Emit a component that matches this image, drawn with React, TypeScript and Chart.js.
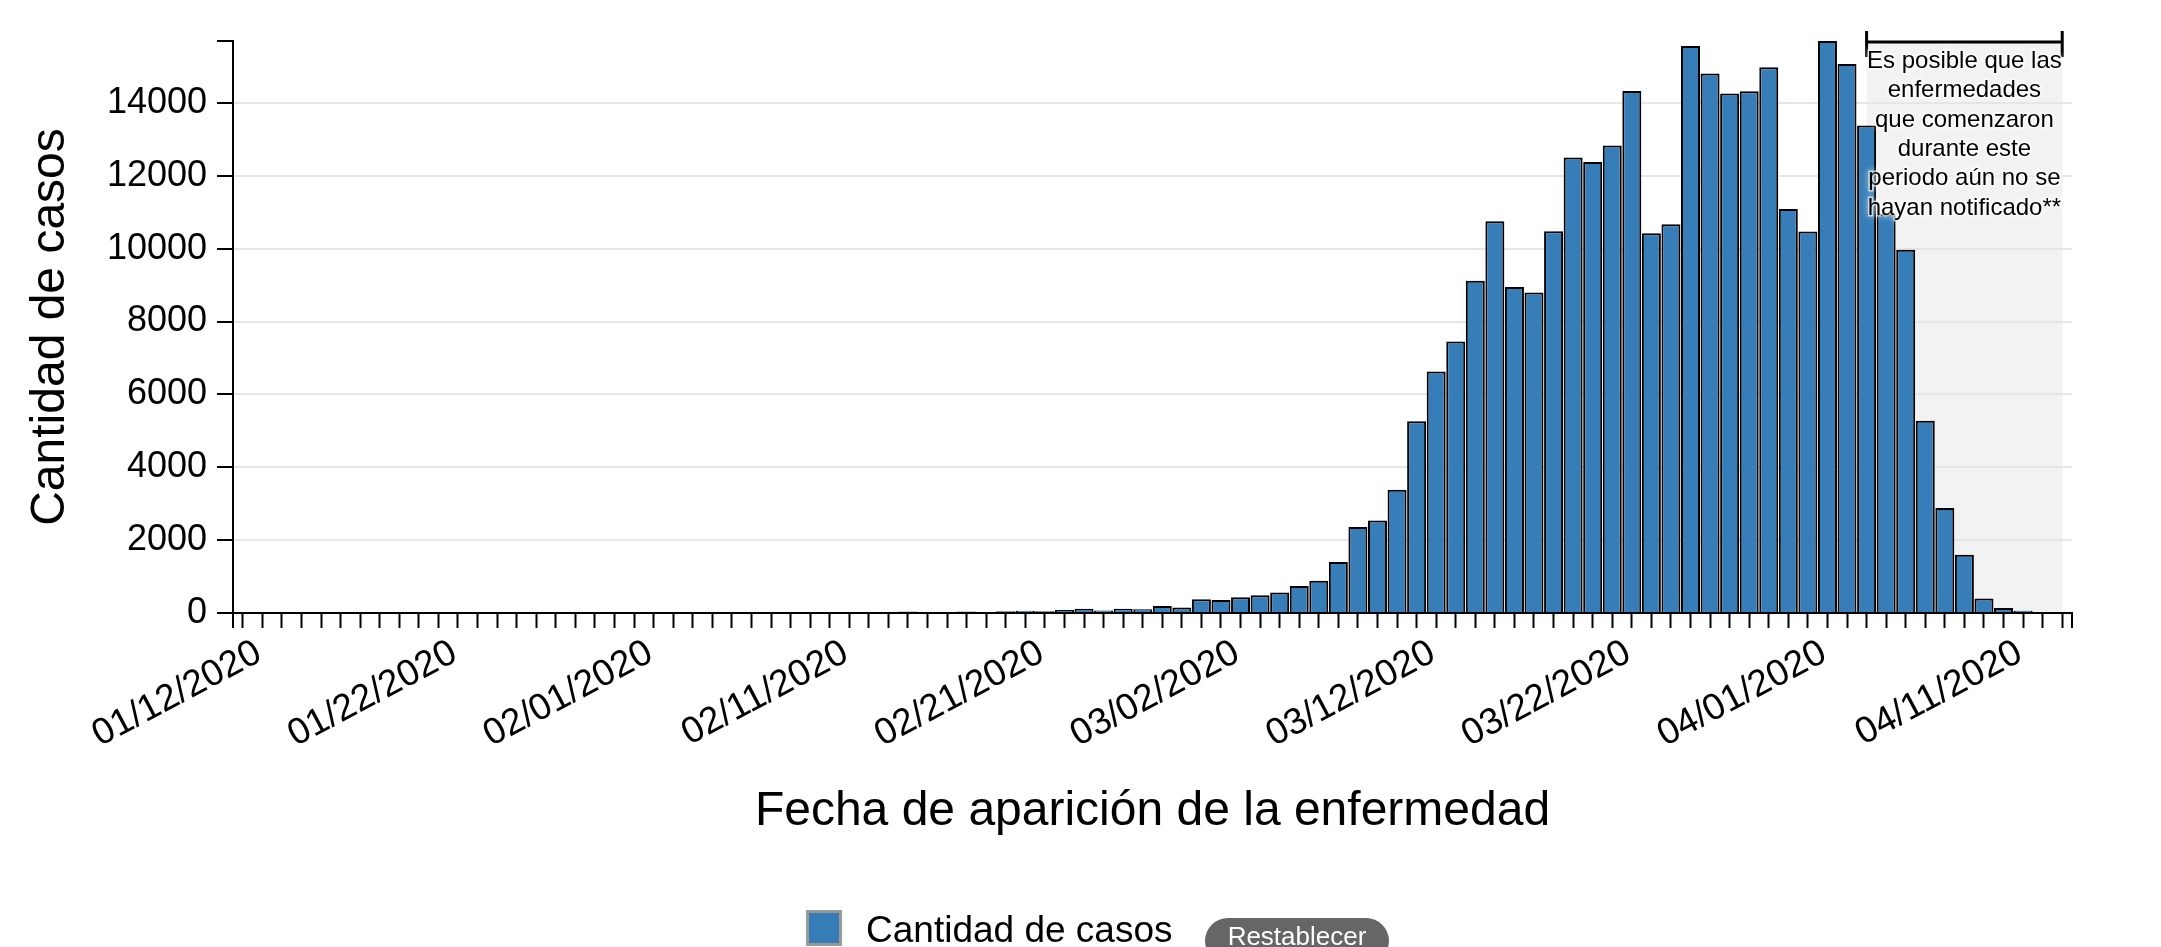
import React, { useEffect, useRef } from "react";
import { Chart, registerables } from "chart.js";

Chart.register(...registerables);

const dates: string[] = [
  "01/12/2020", "01/13/2020", "01/14/2020", "01/15/2020", "01/16/2020", "01/17/2020", "01/18/2020", "01/19/2020", "01/20/2020", "01/21/2020",
  "01/22/2020", "01/23/2020", "01/24/2020", "01/25/2020", "01/26/2020", "01/27/2020", "01/28/2020", "01/29/2020", "01/30/2020", "01/31/2020",
  "02/01/2020", "02/02/2020", "02/03/2020", "02/04/2020", "02/05/2020", "02/06/2020", "02/07/2020", "02/08/2020", "02/09/2020", "02/10/2020",
  "02/11/2020", "02/12/2020", "02/13/2020", "02/14/2020", "02/15/2020", "02/16/2020", "02/17/2020", "02/18/2020", "02/19/2020", "02/20/2020",
  "02/21/2020", "02/22/2020", "02/23/2020", "02/24/2020", "02/25/2020", "02/26/2020", "02/27/2020", "02/28/2020", "02/29/2020", "03/01/2020",
  "03/02/2020", "03/03/2020", "03/04/2020", "03/05/2020", "03/06/2020", "03/07/2020", "03/08/2020", "03/09/2020", "03/10/2020", "03/11/2020",
  "03/12/2020", "03/13/2020", "03/14/2020", "03/15/2020", "03/16/2020", "03/17/2020", "03/18/2020", "03/19/2020", "03/20/2020", "03/21/2020",
  "03/22/2020", "03/23/2020", "03/24/2020", "03/25/2020", "03/26/2020", "03/27/2020", "03/28/2020", "03/29/2020", "03/30/2020", "03/31/2020",
  "04/01/2020", "04/02/2020", "04/03/2020", "04/04/2020", "04/05/2020", "04/06/2020", "04/07/2020", "04/08/2020", "04/09/2020", "04/10/2020",
  "04/11/2020", "04/12/2020", "04/13/2020", "04/14/2020",
];

const cases: number[] = [
  0, 0, 0, 0, 0, 0, 0, 0, 1, 0,
  0, 1, 0, 0, 1, 0, 1, 1, 0, 2,
  1, 2, 3, 2, 4, 3, 5, 6, 10, 25,
  12, 18, 28, 35, 38, 20, 35, 38, 30, 45,
  65, 45, 80, 115, 70, 120, 105, 195, 150, 380,
  355, 430, 485, 560, 740, 885, 1400, 2360, 2540, 3380,
  5260, 6630, 7450, 9120, 10750, 8950, 8800, 10480, 12500, 12380,
  12830, 14330, 10420, 10670, 15560, 14810, 14260, 14320, 14980, 11090,
  10470, 15700, 15070, 13380, 10950, 9970, 5280, 2880, 1600, 395,
  135, 62, 22, 5,
];

const tickLabels: string[] = [
  "01/12/2020", "01/22/2020", "02/01/2020", "02/11/2020", "02/21/2020",
  "03/02/2020", "03/12/2020", "03/22/2020", "04/01/2020", "04/11/2020",
];

const yTicks: number[] = [0, 2000, 4000, 6000, 8000, 10000, 12000, 14000];

const seriesLabel = "Cantidad de casos";
const xTitle = "Fecha de aparición de la enfermedad";
const yTitle = "Cantidad de casos";
const noteLines: string[] = [
  "Es posible que las",
  "enfermedades",
  "que comenzaron",
  "durante este",
  "periodo aún no se",
  "hayan notificado**",
];
const noteStart = "04/04/2020";
const noteEnd = "04/14/2020";
const resetLabel = "Restablecer";

const FONT = '"Liberation Sans", Arial, Helvetica, sans-serif';
const BAR = "#377eb8";

const notePlugin = {
  id: "note",
  beforeDraw(chart: any) {
    const { ctx, chartArea } = chart;
    const xs = chart.scales.x;
    const a = xs.getPixelForValue(dates.indexOf(noteStart));
    const b = xs.getPixelForValue(dates.indexOf(noteEnd));
    ctx.save();
    ctx.fillStyle = "#f2f2f2";
    ctx.fillRect(a, chartArea.top, b - a, chartArea.bottom - chartArea.top);
    ctx.restore();
  },
  afterDraw(chart: any) {
    const { ctx, chartArea } = chart;
    const xs = chart.scales.x;
    const a = xs.getPixelForValue(dates.indexOf(noteStart));
    const b = xs.getPixelForValue(dates.indexOf(noteEnd));
    const top = chartArea.top;
    ctx.save();
    ctx.strokeStyle = "#000";
    ctx.lineWidth = 3;
    ctx.beginPath();
    ctx.moveTo(a, top + 1);
    ctx.lineTo(b, top + 1);
    ctx.moveTo(a, top - 10);
    ctx.lineTo(a, top + 16);
    ctx.moveTo(b, top - 10);
    ctx.lineTo(b, top + 16);
    ctx.stroke();

    ctx.lineWidth = 2;
    ctx.beginPath();
    ctx.moveTo(chartArea.left - 16, top);
    ctx.lineTo(chartArea.left, top);
    ctx.moveTo(chartArea.left, chartArea.bottom);
    ctx.lineTo(chartArea.left, chartArea.bottom + 15);
    ctx.moveTo(chartArea.right, chartArea.bottom);
    ctx.lineTo(chartArea.right, chartArea.bottom + 15);
    ctx.stroke();

    ctx.font = `24px ${FONT}`;
    ctx.textAlign = "center";
    ctx.textBaseline = "alphabetic";
    const cx = (a + b) / 2;
    noteLines.forEach((t, k) => {
      const y = top + 27 + k * 29.3;
      ctx.save();
      ctx.shadowColor = "rgba(255,255,255,0.95)";
      ctx.shadowBlur = 6;
      ctx.strokeStyle = "rgba(255,255,255,0.6)";
      ctx.lineWidth = 3;
      ctx.strokeText(t, cx, y);
      ctx.restore();
      ctx.fillStyle = "#000";
      ctx.fillText(t, cx, y);
    });
    ctx.restore();
  },
};

export default function App() {
  const ref = useRef<HTMLCanvasElement>(null);

  useEffect(() => {
    const canvas = ref.current;
    if (!canvas) return;
    const chart = new Chart(canvas, {
      type: "bar",
      data: {
        labels: dates,
        datasets: [
          {
            label: seriesLabel,
            data: cases,
            backgroundColor: BAR,
            borderColor: "#000",
            borderWidth: 2,
            barPercentage: 0.97,
            categoryPercentage: 1,
          },
        ],
      },
      options: {
        responsive: false,
        animation: false,
        devicePixelRatio: 1,
        layout: { padding: { left: 0, top: 41, right: 89, bottom: 0 } },
        plugins: {
          legend: { display: false },
          tooltip: { enabled: false },
        },
        scales: {
          x: {
            offset: true,
            grid: {
              offset: false,
              drawOnChartArea: false,
              drawTicks: true,
              tickLength: 15,
              tickWidth: 2,
              tickColor: "#000",
            },
            border: { display: true, color: "#000", width: 2, z: 1 },
            ticks: {
              autoSkip: false,
              minRotation: 28,
              maxRotation: 28,
              padding: 3,
              labelOffset: 16,
              color: "#000",
              font: { family: FONT, size: 37 },
              callback: (_v: any, i: number) =>
                tickLabels.includes(dates[i]) ? dates[i] : "",
            },
            title: {
              display: true,
              text: xTitle,
              color: "#000",
              font: { family: FONT, size: 48 },
              padding: { top: 0, bottom: 106 },
            },
            afterFit: (s: any) => {
              s.height = 334;
            },
          },
          y: {
            min: 0,
            max: Math.max(...cases),
            afterBuildTicks: (s: any) => {
              s.ticks = yTicks.map((v) => ({ value: v }));
            },
            ticks: {
              padding: 10,
              color: "#000",
              font: { family: FONT, size: 36 },
              callback: (v: any) => String(v),
            },
            grid: {
              color: "#e6e6e6",
              lineWidth: 2,
              tickLength: 16,
              tickWidth: 2,
              tickColor: "#000",
            },
            border: { display: true, color: "#000", width: 2, z: 1 },
            title: {
              display: true,
              text: yTitle,
              color: "#000",
              font: { family: FONT, size: 48 },
              padding: { top: 22, bottom: 0 },
            },
            afterFit: (s: any) => {
              s.width = 233;
            },
          },
        },
      },
      plugins: [notePlugin],
    } as any);
    return () => chart.destroy();
  }, []);

  return (
    <div
      style={{
        position: "absolute",
        left: 0,
        top: 0,
        width: 2161,
        height: 947,
        overflow: "hidden",
        background: "#fff",
      }}
    >
      <canvas
        ref={ref}
        width={2161}
        height={947}
        style={{ display: "block", position: "absolute", left: 0, top: 0 }}
      />
      <div
        style={{
          position: "absolute",
          left: 806,
          top: 910,
          width: 36,
          height: 36,
          boxSizing: "border-box",
          border: "3px solid #999",
          background: BAR,
        }}
      />
      <div
        style={{
          position: "absolute",
          left: 866,
          top: 912,
          fontFamily: FONT,
          fontSize: 37,
          lineHeight: "36px",
          color: "#000",
          whiteSpace: "nowrap",
        }}
      >
        {seriesLabel}
      </div>
      <div
        style={{
          position: "absolute",
          left: 1205,
          top: 918,
          width: 184,
          height: 46,
          borderRadius: 23,
          background: "#666",
        }}
      />
      <div
        style={{
          position: "absolute",
          left: 1205,
          top: 923,
          width: 184,
          textAlign: "center",
          fontFamily: FONT,
          fontSize: 26,
          lineHeight: "26px",
          color: "#fff",
          whiteSpace: "nowrap",
        }}
      >
        {resetLabel}
      </div>
    </div>
  );
}
